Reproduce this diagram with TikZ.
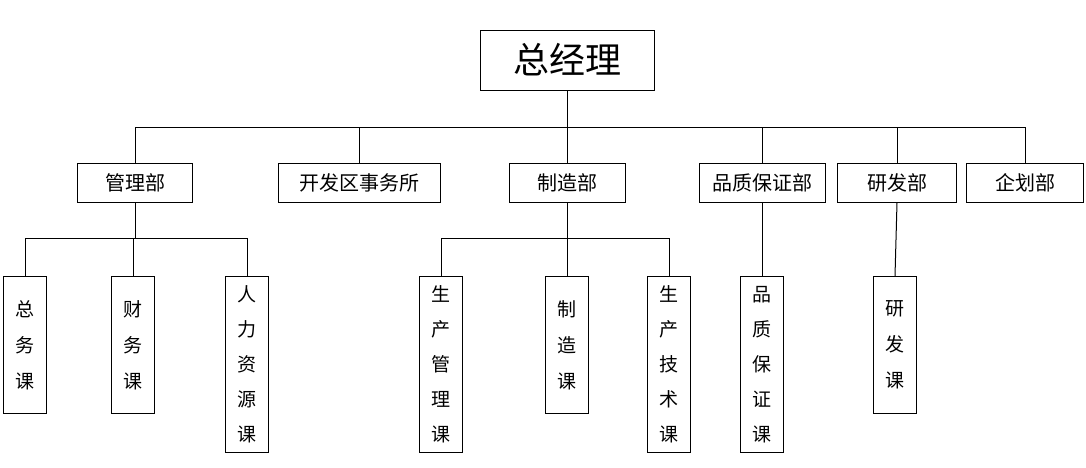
\documentclass[tikz,border=0pt]{standalone}
\usepackage{fontspec}
\setmainfont{Noto Sans CJK SC}
\begin{document}
\begin{tikzpicture}[x=1pt,y=-1pt,
  box/.style={draw,line width=1pt,inner sep=0pt,minimum height=39pt,font=\fontsize{20}{22}\selectfont},
  vbox/.style={draw,line width=1pt,inner sep=0pt,anchor=north,minimum width=43pt,align=center,font=\fontsize{19}{36}\selectfont},
  ln/.style={line width=1pt}]
\useasboundingbox (0,0) rectangle (1086,467);
\node[draw,line width=1pt,minimum width=174pt,minimum height=60pt,inner sep=0pt,font=\fontsize{36}{40}\selectfont] (top) at (567,60) {总经理};
\node[box,minimum width=115pt] (a) at (135,182.5) {管理部};
\node[box,minimum width=162pt] (b) at (359,182.5) {开发区事务所};
\node[box,minimum width=116pt] (c) at (567,182.5) {制造部};
\node[box,minimum width=126pt] (d) at (762,182.5) {品质保证部};
\node[box,minimum width=119pt] (e) at (897,182.5) {研发部};
\node[box,minimum width=117pt] (f) at (1025,182.5) {企划部};
\coordinate (h1) at (135,127);\coordinate (h2) at (1025,127);
\draw[ln] (top.south) -- (567,127);
\draw[ln] (h1) -- (h2);
\foreach \n/\x in {a/135,b/359,c/567,d/762,e/897,f/1025} \draw[ln] (\x,127) -- (\n.north);
\node[vbox,minimum height=137pt] (a1) at (25,276) {总\\务\\课};
\node[vbox,minimum height=137pt] (a2) at (133,276) {财\\务\\课};
\node[vbox,minimum height=176pt,font=\fontsize{19}{35}\selectfont] (a3) at (247,276) {人\\力\\资\\源\\课};
\node[vbox,minimum height=176pt,font=\fontsize{19}{35}\selectfont] (c1) at (441,276) {生\\产\\管\\理\\课};
\node[vbox,minimum height=137pt] (c2) at (567,276) {制\\造\\课};
\node[vbox,minimum height=176pt,font=\fontsize{19}{35}\selectfont] (c3) at (669,276) {生\\产\\技\\术\\课};
\node[vbox,minimum height=176pt,font=\fontsize{19}{35}\selectfont] (d1) at (762,276) {品\\质\\保\\证\\课};
\node[vbox,minimum height=137pt] (e1) at (895,276) {研\\发\\课};
\draw[ln] (a.south) -- (135,238);
\draw[ln] (25,238) -- (247,238);
\foreach \n/\x in {a1/25,a2/133,a3/247} \draw[ln] (\x,238) -- (\n.north);
\draw[ln] (c.south) -- (567,238);
\draw[ln] (441,238) -- (669,238);
\foreach \n/\x in {c1/441,c2/567,c3/669} \draw[ln] (\x,238) -- (\n.north);
\draw[ln] (d.south) -- (d1.north);
\draw[ln] (e.south) -- (e1.north);
\end{tikzpicture}
\end{document}
